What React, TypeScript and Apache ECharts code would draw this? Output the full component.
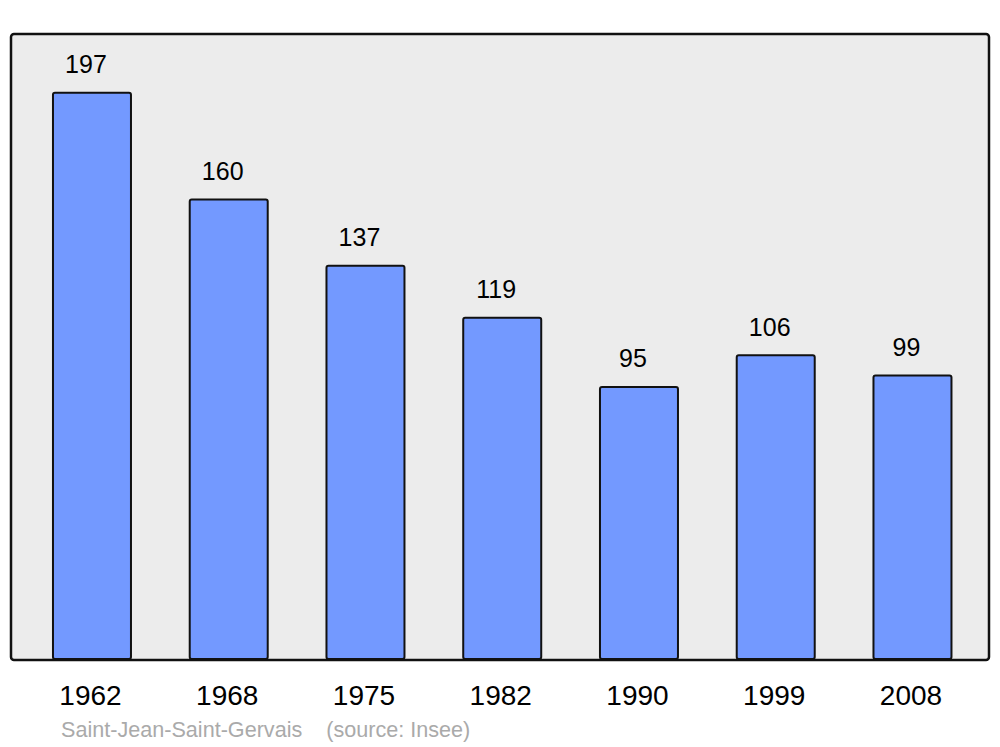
import React, { useEffect, useRef } from "react";
import * as echarts from "echarts";

const years = ["1962", "1968", "1975", "1982", "1990", "1999", "2008"];
const population = [197, 160, 137, 119, 95, 106, 99];
const footer = "Saint-Jean-Saint-Gervais    (source: Insee)";

export default function App() {
  const ref = useRef<HTMLDivElement>(null);
  useEffect(() => {
    if (!ref.current) return;
    const chart = echarts.init(ref.current, null, { renderer: "svg" });
    chart.setOption({
      animation: false,
      textStyle: { fontFamily: "Liberation Sans, Arial, sans-serif" },
      graphic: [
        {
          type: "rect",
          z: -10,
          shape: { x: 11, y: 34, width: 978, height: 626, r: 3 },
          style: { fill: "#ececec", stroke: "#111", lineWidth: 2.5 },
        },
        {
          type: "text",
          x: 61,
          y: 729,
          style: {
            text: footer,
            fill: "#aaaaaa",
            fontSize: 21.6,
            fontFamily: "Liberation Sans, Arial, sans-serif",
            verticalAlign: "middle",
          },
        },
      ],
      grid: { left: 23.6, top: 34, width: 957.25, height: 626 },
      xAxis: {
        type: "category",
        data: years,
        axisLine: { show: false },
        axisTick: { show: false },
        axisLabel: { fontSize: 28, color: "#000", margin: 21, padding: [0, 3, 0, 0] },
      },
      yAxis: {
        type: "value",
        min: 0,
        max: 217,
        show: false,
        splitLine: { show: false },
      },
      series: [
        {
          type: "bar",
          data: population,
          barWidth: 80,
          itemStyle: {
            color: "#7399ff",
            borderColor: "#111",
            borderWidth: 2,
            borderRadius: 2,
          },
          label: {
            show: true,
            position: "top",
            distance: 15,
            offset: [-6, 0],
            fontSize: 25,
            color: "#000",
          },
        },
      ],
    });
    return () => chart.dispose();
  }, []);
  return <div ref={ref} style={{ width: 1000, height: 747, position: "absolute", left: 0, top: 0 }} />;
}
